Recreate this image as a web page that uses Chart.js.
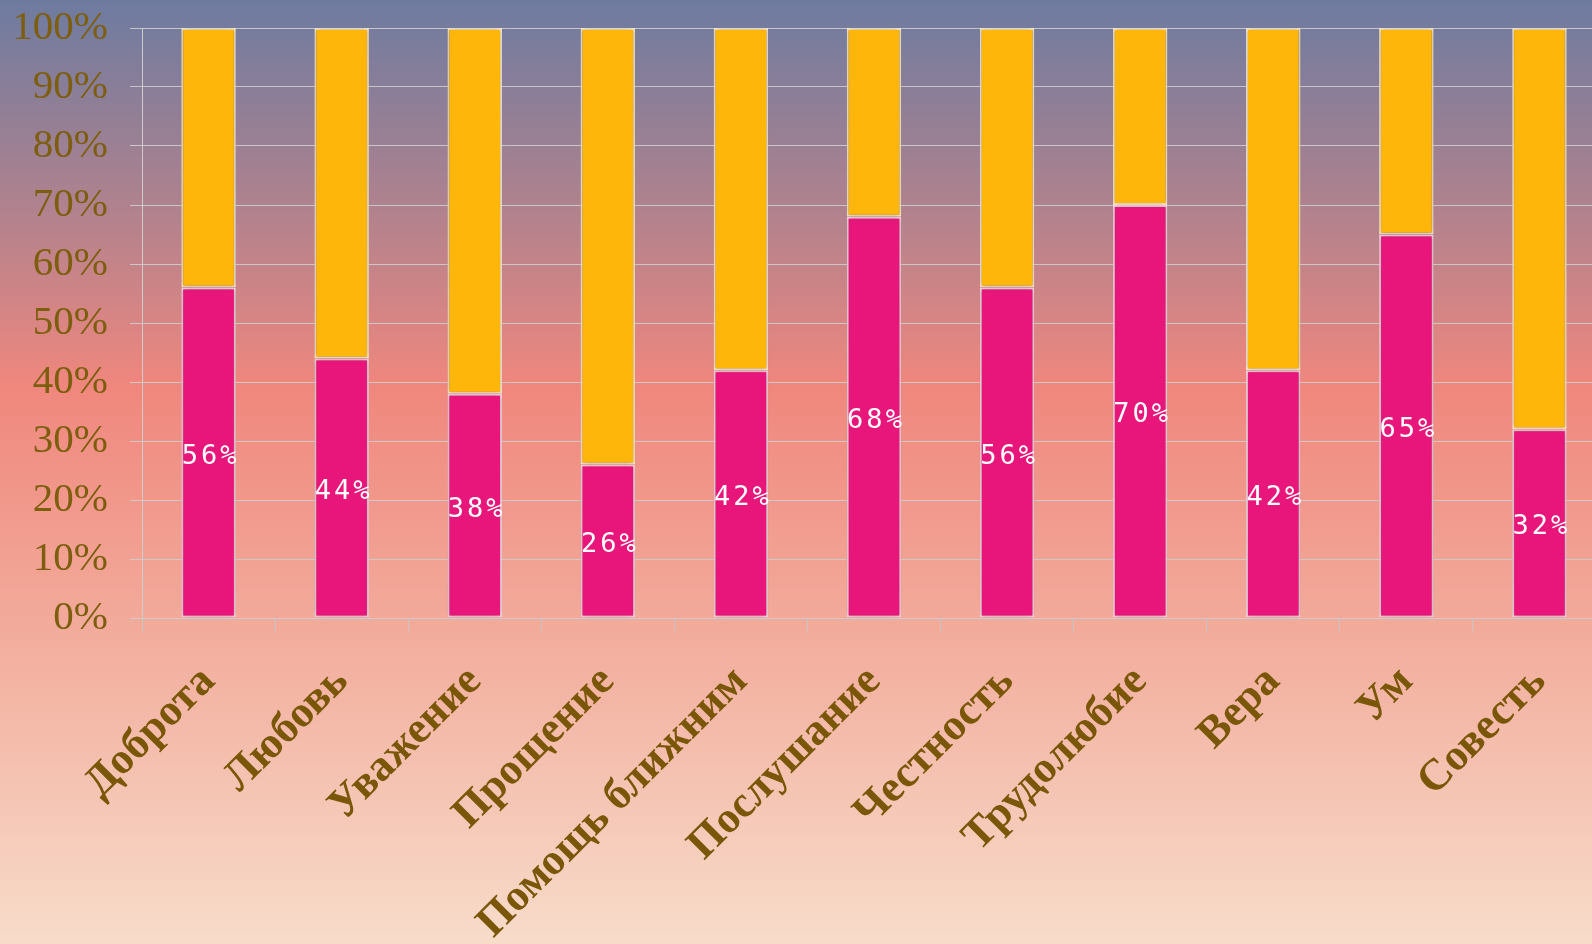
<!DOCTYPE html>
<html>
<head>
<meta charset="utf-8">
<script src="https://cdn.jsdelivr.net/npm/chart.js@4.4.1/dist/chart.umd.min.js"></script>
<style>
  html, body { margin: 0; padding: 0; width: 1592px; height: 944px; overflow: hidden; }
  body {
    background: linear-gradient(to bottom, #6D7BA0 0%, #B0828E 22%, #F0877D 41%, #F2A999 65%, #F8DCCA 100%);
  }
  #wrap { position: absolute; left: 0; top: 0; width: 1606px; height: 944px; }
</style>
</head>
<body>
<div id="wrap"><canvas id="c" width="1606" height="944"></canvas></div>
<script>
const categories = ["Доброта", "Любовь", "Уважение", "Прощение", "Помощь ближним", "Послушание", "Честность", "Трудолюбие", "Вера", "Ум", "Совесть"];
const pinkValues = [56, 44, 38, 26, 42, 68, 56, 70, 42, 65, 32];
const yellowValues = [44, 56, 62, 74, 58, 32, 44, 30, 58, 35, 68];
const yTickLabels = ["0%", "10%", "20%", "30%", "40%", "50%", "60%", "70%", "80%", "90%", "100%"];

const shadowPlugin = {
  id: 'barShadow',
  beforeDatasetsDraw(chart) {
    const ctx = chart.ctx;
    ctx.save();
    ctx.shadowColor = 'rgba(60,40,60,0.35)';
    ctx.shadowBlur = 6;
  },
  afterDatasetsDraw(chart) {
    chart.ctx.restore();
    const ctx = chart.ctx;
    const meta = chart.getDatasetMeta(0);
    ctx.save();
    ctx.fillStyle = '#FFFFFF';
    ctx.font = '27px "DejaVu Sans Mono", "Liberation Mono", monospace';
    ctx.textAlign = 'center';
    ctx.textBaseline = 'middle';
    try { ctx.letterSpacing = '3px'; } catch (e) {}
    meta.data.forEach((bar, i) => {
      const y = (bar.y + bar.base) / 2;
      ctx.fillText(pinkValues[i] + '%', bar.x + 2, y + 4);
    });
    ctx.restore();
  }
};

new Chart(document.getElementById('c'), {
  type: 'bar',
  data: {
    labels: categories,
    datasets: [
      {
        data: pinkValues,
        backgroundColor: '#E8157A',
        borderColor: 'rgba(250,215,230,0.95)',
        borderWidth: 2,
        borderSkipped: false,
        barPercentage: 0.41,
        categoryPercentage: 1.0
      },
      {
        data: yellowValues,
        backgroundColor: '#FFB60A',
        borderColor: 'rgba(255,240,200,0.95)',
        borderWidth: 2,
        borderSkipped: false,
        barPercentage: 0.41,
        categoryPercentage: 1.0
      }
    ]
  },
  options: {
    responsive: false,
    animation: false,
    devicePixelRatio: 1,
    layout: { padding: { top: 28, left: 0, right: 0, bottom: 0 } },
    plugins: { legend: { display: false }, tooltip: { enabled: false } },
    scales: {
      x: {
        stacked: true,
        grid: { drawOnChartArea: false, color: '#C9C3C3', tickLength: 14, offset: true },
        border: { display: true, color: '#CFCACA' },
        ticks: {
          color: '#7A5708',
          font: { family: '"Liberation Serif", "DejaVu Serif", serif', size: 44, weight: 'bold' },
          minRotation: 45,
          maxRotation: 45,
          padding: 24,
          autoSkip: false
        },
        afterFit(scale) { scale.height = 326; }
      },
      y: {
        stacked: true,
        min: 0,
        max: 100,
        grid: { color: 'rgba(205,205,205,0.9)', tickLength: 12, lineWidth: 1 },
        border: { display: true, color: '#D0CCCC' },
        ticks: {
          stepSize: 10,
          color: '#7D5E0E',
          font: { family: '"Liberation Serif", "DejaVu Serif", serif', size: 41 },
          padding: 22,
          callback: (v) => yTickLabels[Math.round(v / 10)]
        },
        afterFit(scale) { scale.width = 142; scale.paddingTop = 0; scale.paddingBottom = 0; }
      }
    }
  },
  plugins: [shadowPlugin]
});
</script>
</body>
</html>
